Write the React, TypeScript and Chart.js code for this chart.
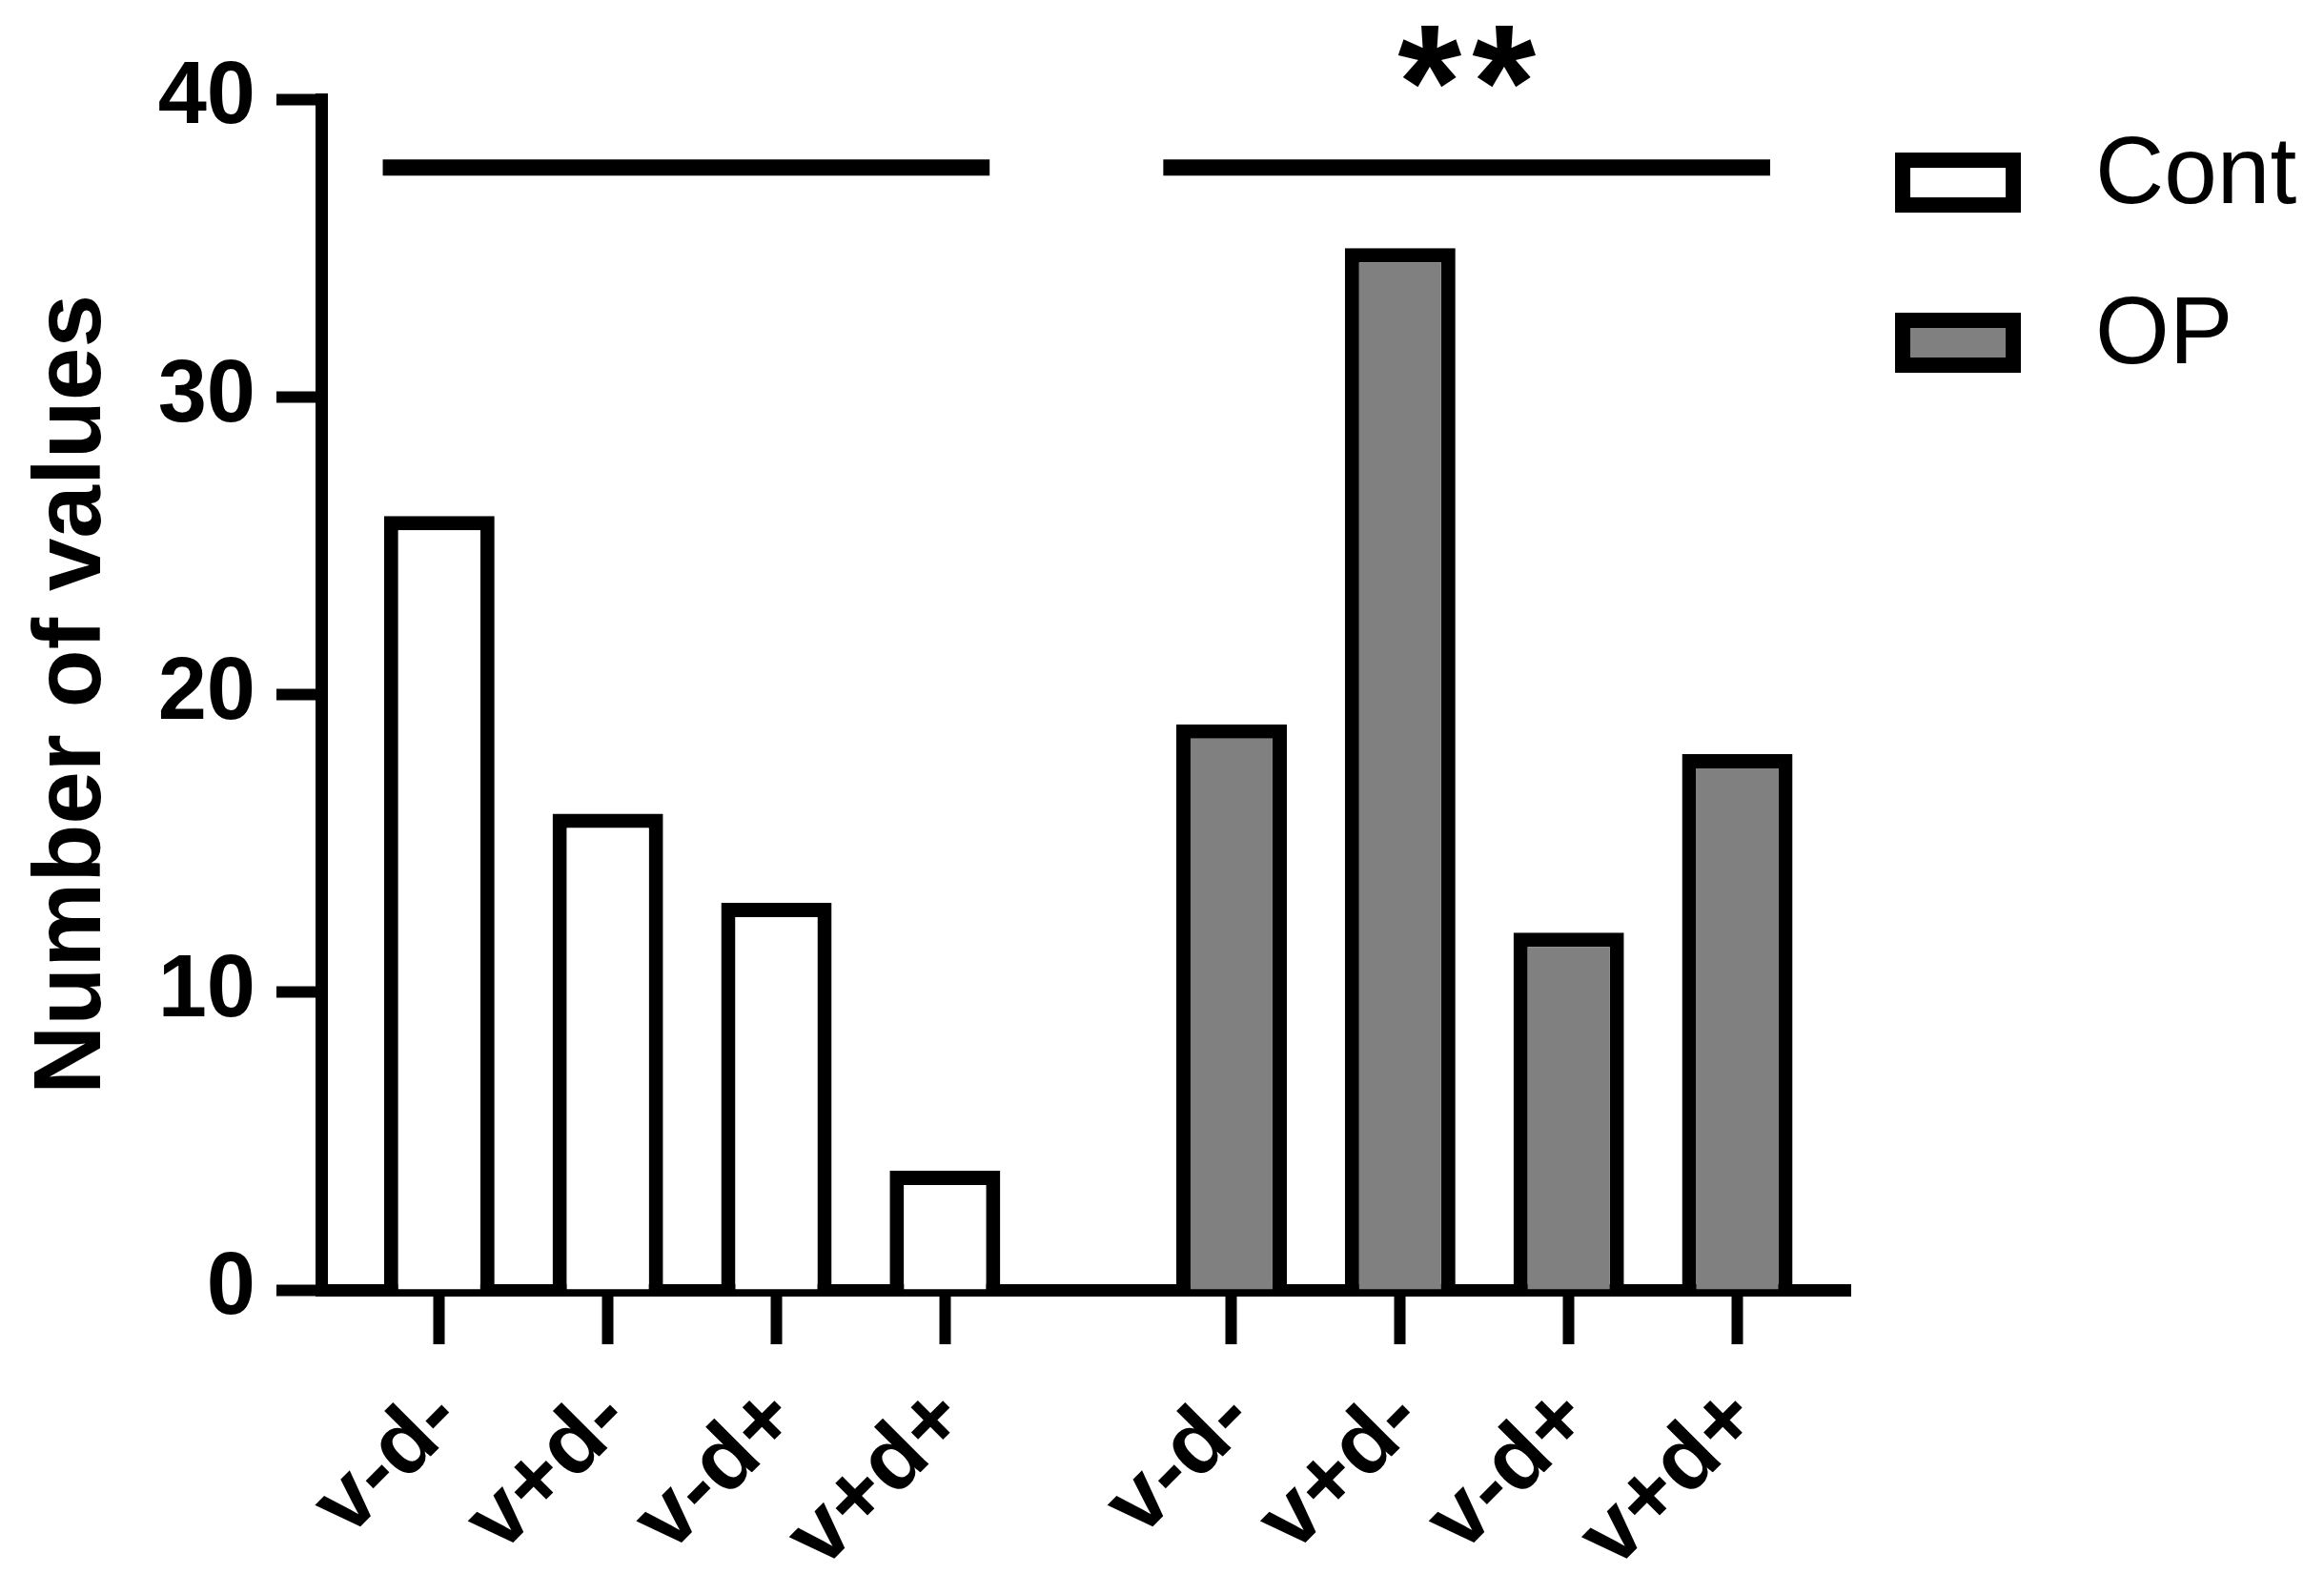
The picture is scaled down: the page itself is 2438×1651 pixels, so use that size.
import React from 'react';

import Chart from 'chart.js/auto';

// categories inside each group, and the two groups
const categories = ['v-d-', 'v+d-', 'v-d+', 'v+d+'];
const groupNames = ['Cont', 'OP'];

// counts
const contCounts = [26, 16, 13, 4];
const opCounts = [19, 35, 12, 18];

// y ticks, significance bracket level and its marks
const yTicks = [0, 10, 20, 30, 40];
const bracketLevel = 37.7;
const bracketMarks = ['', '**'];

const GROUP_GAP = 0.7;
const FONT = '"Liberation Sans", Arial, sans-serif';
const groupFill = ['#ffffff', '#808080'];

const xOf = (g: number, i: number) => 1 + g * (categories.length + GROUP_GAP) + i;
const bracketCenter = (g: number) => xOf(g, (categories.length - 1) / 2) - 0.035 - 0.07 * g;

const tickPositions = groupNames.flatMap((_, g) => categories.map((_c, i) => xOf(g, i)));
const tickLabels = groupNames.flatMap(() => categories);

const annotatePlugin = {
    id: 'annotate',
    afterDatasetsDraw(chart: any) {
        const ctx = chart.ctx;
        const { x, y } = chart.scales;
        const area = chart.chartArea;
        ctx.save();

        // significance stars above the brackets
        ctx.fillStyle = '#000';
        ctx.font = `bold 172px ${FONT}`;
        ctx.textAlign = 'center';
        ctx.textBaseline = 'alphabetic';
        bracketMarks.forEach((mark, g) => {
            if (!mark) return;
            const cx = x.getPixelForValue(bracketCenter(g));
            const cy = y.getPixelForValue(bracketLevel) - 30;
            // two stars, spaced a little wider than the font does
            const chars = mark.split('');
            const step = 78;
            chars.forEach((ch, k) => {
                ctx.fillText(ch, cx + (k - (chars.length - 1) / 2) * step, cy);
            });
        });

        // legend on the right
        chart.data.datasets
            .filter((d: any) => d.type === 'bar')
            .forEach((d: any, k: number) => {
                const bx = area.right + 55;
                const by = area.top + 64 + k * 168;
                ctx.fillStyle = d.backgroundColor;
                ctx.strokeStyle = d.borderColor;
                ctx.lineWidth = 16;
                ctx.fillRect(bx, by, 116, 47);
                ctx.strokeRect(bx, by, 116, 47);
                ctx.fillStyle = '#000';
                ctx.font = `100px ${FONT}`;
                ctx.textAlign = 'left';
                ctx.textBaseline = 'middle';
                ctx.fillText(d.label, area.right + 257, by + 17);
            });
        ctx.restore();
    },
};

const App = () => {
    const canvasRef = React.useRef<HTMLCanvasElement>(null);

    React.useEffect(() => {
        const canvas = canvasRef.current;
        if (!canvas) return;

        const barSets = [contCounts, opCounts].map((vals, g) => ({
            type: 'bar' as const,
            label: groupNames[g],
            data: vals.map((v, i) => ({ x: xOf(g, i), y: v })),
            backgroundColor: groupFill[g],
            borderColor: '#000',
            borderWidth: 15,
            grouped: false,
            categoryPercentage: 1,
            barPercentage: 0.656,
        }));

        const bracketSets = groupNames.map((_, g) => ({
            type: 'line' as const,
            label: 'bracket' + g,
            data: [
                { x: bracketCenter(g) - 1.8, y: bracketLevel },
                { x: bracketCenter(g) + 1.8, y: bracketLevel },
            ],
            borderColor: '#000',
            borderWidth: 17,
            borderCapStyle: 'butt',
            pointRadius: 0,
            fill: false,
        }));

        const chart = new Chart(canvas, {
            type: 'bar',
            data: { datasets: [...barSets, ...bracketSets] as any },
            options: {
                animation: false,
                responsive: true,
                maintainAspectRatio: false,
                events: [],
                layout: { padding: { top: 96, right: 489, left: 0, bottom: 0 } },
                plugins: {
                    legend: { display: false },
                    tooltip: { enabled: false },
                },
                scales: {
                    x: {
                        type: 'linear',
                        min: 0.3,
                        max: 9.37,
                        offset: false,
                        afterBuildTicks: (s: any) => {
                            s.ticks = tickPositions.map((v) => ({ value: v }));
                        },
                        afterFit: (s: any) => {
                            s.height = 289;
                        },
                        grid: {
                            offset: false,
                            drawOnChartArea: false,
                            tickLength: 57,
                            tickWidth: 12,
                            tickColor: '#000',
                        },
                        border: { color: '#000', width: 13 },
                        ticks: {
                            autoSkip: false,
                            minRotation: 45,
                            maxRotation: 45,
                            padding: 24,
                            labelOffset: 8,
                            color: '#000',
                            font: { family: FONT, size: 94, weight: 'bold' },
                            callback: (_v: any, i: number) => tickLabels[i],
                        },
                    },
                    y: {
                        min: 0,
                        max: 40,
                        afterBuildTicks: (s: any) => {
                            s.ticks = yTicks.map((v) => ({ value: v }));
                        },
                        afterFit: (s: any) => {
                            s.width = 329;
                        },
                        grid: {
                            drawOnChartArea: false,
                            tickLength: 47,
                            tickWidth: 12,
                            tickColor: '#000',
                        },
                        border: { color: '#000', width: 13 },
                        ticks: {
                            padding: 22,
                            color: '#000',
                            font: { family: FONT, size: 92, weight: 'bold' },
                        },
                        title: {
                            display: true,
                            text: 'Number of values',
                            color: '#000',
                            font: { family: FONT, size: 100, weight: 'bold' },
                            padding: { top: 9, bottom: 0 },
                        },
                    },
                },
            } as any,
            plugins: [annotatePlugin],
        });

        return () => {
            chart.destroy();
        };
    }, []);

    return (
        <div style={{ width: '2422px', height: '1634px', position: 'relative' }}>
            <canvas ref={canvasRef}></canvas>
        </div>
    );
};

export default App;
